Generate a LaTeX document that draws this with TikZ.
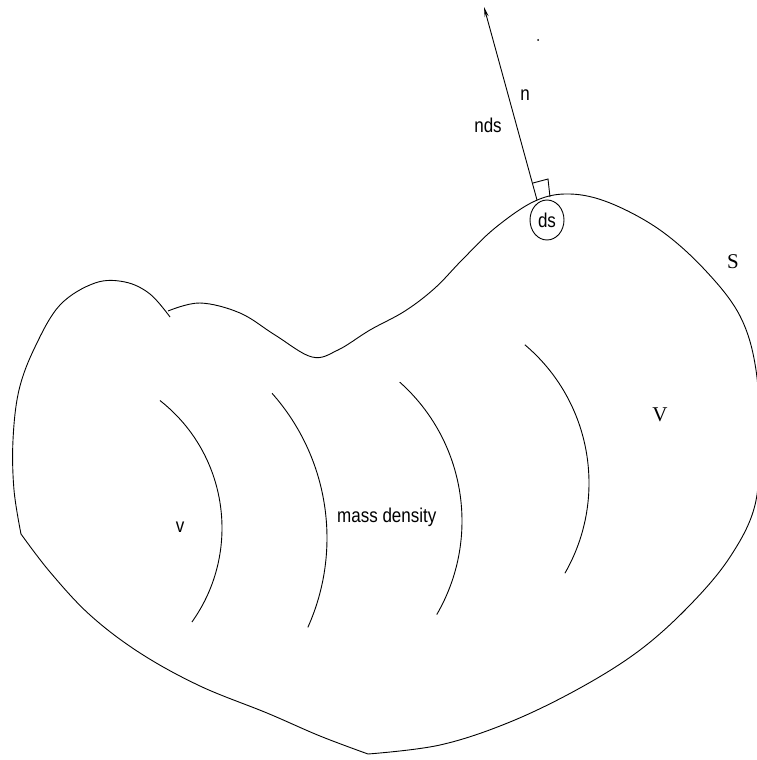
\documentclass[tikz,border=0pt]{standalone}
\usepackage{fontspec}
\setmainfont{Liberation Serif}
\setsansfont{Liberation Sans}
\newfontfamily\tagfont[FakeStretch=0.85]{Liberation Sans}
\usepackage{tikz}
\usetikzlibrary{shapes,arrows.meta,positioning,calc}

\begin{document}
\begin{tikzpicture}[
    x=1pt, y=-1pt,
    outline/.style={line width=0.9pt, smooth, tension=0.6},
    shell/.style={line width=0.9pt},
    tag/.style={font=\tagfont\fontsize{20}{22}\selectfont, inner sep=0pt},
    sym/.style={font=\fontsize{21}{24}\selectfont, inner sep=0pt},
    ring/.style={ellipse, draw, line width=0.9pt, minimum width=34pt, minimum height=40pt, inner sep=0pt, font=\tagfont\fontsize{20}{22}\selectfont}]

    \useasboundingbox (0,0) rectangle (757,760);

    % Surface S
    \draw[outline] plot coordinates {(168,311) (200,303) (240,313) (275,335) (312,357) (338,350) (370,330) (405,311) (435,288) (462,260) (495,228) (535,201) (570,194) (610,203) (660,230) (705,270) (740,316) (756,370) (759,440) (755,505) (730,557) (690,605) (640,650) (580,688) (510,722) (440,745) (368,754)};
    \draw[outline] plot coordinates {(368,754) (320,736) (267,713) (200,686) (140,653) (90,615) (50,572) (21,534)};
    \draw[outline] plot coordinates {(21,534) (14,490) (13,440) (19,390) (35,347) (60,305) (95,283) (125,282) (150,294) (170,317)};

    % Density shells
    \draw[shell] (60,528) ++(-51.9:162) arc[start angle=-51.9, end angle=35.5, radius=162];
    \draw[shell] (109,538) ++(-41.6:218) arc[start angle=-41.6, end angle=24.2, radius=218];
    \draw[shell] (276,521) ++(-48.3:186) arc[start angle=-48.3, end angle=30.2, radius=186];
    \draw[shell] (408,483) ++(-49.8:181) arc[start angle=-49.8, end angle=29.9, radius=181];

    % Surface element and normal
    \node[ring] (ds) at (547,220) {ds};
    \coordinate (foot) at (537,200);
    \coordinate (tip) at (484,7);
    \draw[line width=0.9pt, -{Stealth[length=10pt,width=4pt]}] (foot) -- (tip);
    \draw[line width=0.9pt] (533,183) -- (548,179) -- (550,197);
    \fill (538,40) circle (1pt);

    % Labels
    \node[tag] (n) at (525,95) {n};
    \node[tag] (nds) at (488,125) {nds};
    \node[sym] (S) at (733,262) {S};
    \node[sym] (V) at (660,415) {V};
    \node[tag] (v) at (180,527) {v};
    \node[tag, anchor=west] (rho) at (337,517) {mass density};
\end{tikzpicture}
\end{document}
